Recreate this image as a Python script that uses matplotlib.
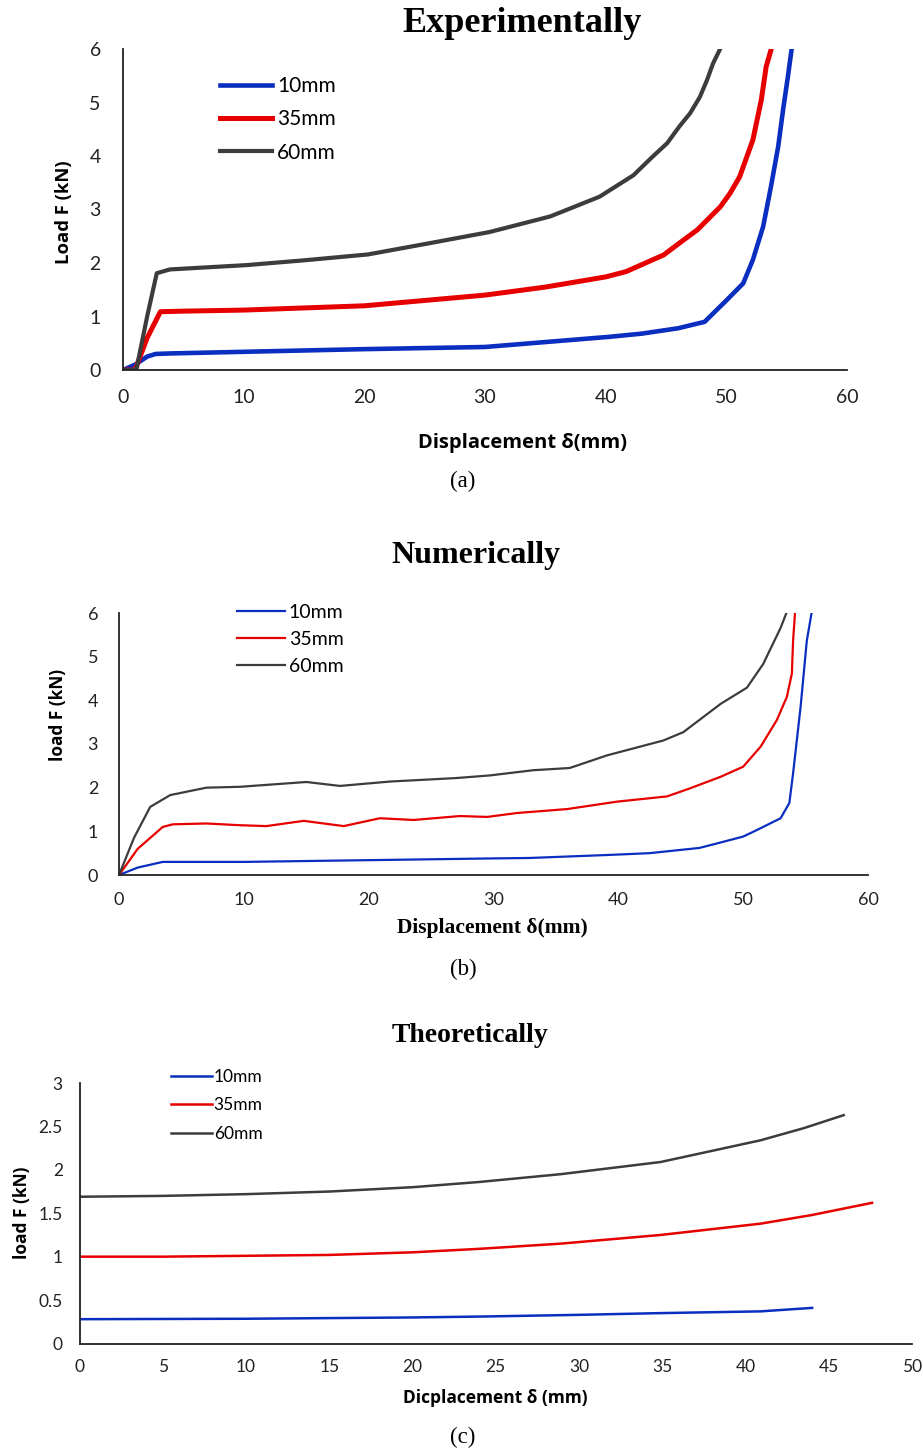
import numpy as np
import matplotlib
matplotlib.use("Agg")
import matplotlib.pyplot as plt

# ---- data ----
labels = ["10mm", "35mm", "60mm"]
colors = ["#0a2fc0", "#e60000", "#3c3c3c"]

# (a) experimentally
exp_x_10 = [0, 1, 2, 2.7, 4, 10, 20, 30, 40.3, 43, 46, 48.2, 50, 51.4, 52.2, 53.05, 53.7, 54.3, 54.7, 55.1, 55.4, 55.6]
exp_y_10 = [0, 0.1, 0.25, 0.3, 0.31, 0.34, 0.39, 0.43, 0.62, 0.68, 0.78, 0.9, 1.3, 1.62, 2.06, 2.68, 3.43, 4.18, 4.86, 5.48, 5.98, 6.3]
exp_x_35 = [0, 1.0, 2.0, 3.1, 5, 10, 20, 30, 35, 40, 41.7, 44.8, 46.1, 47.6, 49.5, 50.3, 51.1, 52.2, 52.9, 53.3, 53.7, 53.9]
exp_y_35 = [0, 0.0, 0.6, 1.09, 1.1, 1.12, 1.2, 1.4, 1.55, 1.74, 1.84, 2.15, 2.37, 2.62, 3.05, 3.3, 3.61, 4.3, 5.05, 5.67, 5.98, 6.3]
exp_x_60 = [0, 1.1, 2.0, 2.8, 3.9, 10.2, 15, 20.3, 25.4, 30.4, 35.4, 37.4, 39.5, 42.3, 43.9, 45.1, 46.1, 47.0,
            47.8, 48.4, 48.9, 49.7]
exp_y_60 = [0, 0.0, 1.0, 1.81, 1.88, 1.96, 2.05, 2.16, 2.37, 2.58, 2.87, 3.05, 3.24, 3.64, 3.99, 4.24, 4.55, 4.8,
            5.1, 5.42, 5.73, 6.1]

# (b) numerically
num_x_10 = [0, 1.5, 3.5, 10, 20, 30, 32.9, 39.3, 42.5, 46.5, 48.4, 50, 51.1, 53, 53.7, 54.0, 54.6, 55.1, 55.6]
num_y_10 = [0, 0.17, 0.3, 0.3, 0.34, 0.38, 0.39, 0.46, 0.5, 0.62, 0.76, 0.88, 1.03, 1.3, 1.65, 2.33, 3.85, 5.37, 6.2]
num_x_35 = [0, 1.5, 3.5, 4.3, 7.0, 9.7, 11.8, 14.8, 18, 20.9, 23.6, 27.3, 29.5, 31.9, 35.9, 39.9, 43.9,
            45.7, 48.2, 50, 51.4, 52.7, 53.5, 53.9, 54.0, 54.2]
num_y_35 = [0, 0.6, 1.1, 1.16, 1.18, 1.14, 1.12, 1.24, 1.12, 1.3, 1.26, 1.35, 1.33, 1.42, 1.51, 1.68, 1.8,
            1.98, 2.25, 2.48, 2.94, 3.55, 4.08, 4.61, 5.37, 6.2]
num_x_60 = [0, 1.2, 2.5, 4.1, 7.0, 9.7, 15, 17.7, 21.7, 27, 29.7, 33.2, 36.1, 39.1, 43.6, 45.2, 48.2, 50.3,
            51.6, 53, 53.6]
num_y_60 = [0, 0.85, 1.56, 1.83, 2.0, 2.02, 2.13, 2.04, 2.14, 2.22, 2.28, 2.4, 2.45, 2.74, 3.08, 3.27, 3.92,
            4.29, 4.83, 5.66, 6.1]

# (c) theoretically
th_x_10 = [0, 10, 20, 24, 30, 34.9, 40.9, 44.0]
th_y_10 = [0.28, 0.285, 0.3, 0.31, 0.33, 0.35, 0.37, 0.41]
th_x_35 = [0, 5, 10, 15, 20, 24, 28.9, 34.9, 40.9, 44, 47.6]
th_y_35 = [1.0, 1.0, 1.01, 1.02, 1.05, 1.09, 1.15, 1.25, 1.38, 1.48, 1.62]
th_x_60 = [0, 5, 10, 15, 20, 24, 28.9, 34.9, 40.9, 43.5, 45.9]
th_y_60 = [1.69, 1.7, 1.72, 1.75, 1.8, 1.86, 1.95, 2.09, 2.34, 2.48, 2.63]

W, H = 923, 1450
fig = plt.figure(figsize=(W / 100, H / 100), dpi=100)


def px_axes(l, t, r, b):
    ''' Axes from pixel box (left, top, right, bottom). '''
    return fig.add_axes([l / W, 1 - b / H, (r - l) / W, (b - t) / H])


def style_axes(ax, xpad, ypad, size):
    for s in ["top", "right"]:
        ax.spines[s].set_visible(False)
    for s in ["left", "bottom"]:
        ax.spines[s].set_color("#222222")
        ax.spines[s].set_linewidth(1.3)
    ax.tick_params(length=0, labelsize=size)
    ax.tick_params(axis="x", pad=xpad)
    ax.tick_params(axis="y", pad=ypad)
    for lab in ax.get_xticklabels() + ax.get_yticklabels():
        lab.set_fontfamily("Lato")
        lab.set_color("#222222")


def add_legend(ax, left, top, fs, hl, pad, ls):
    ''' Legend whose line starts at pixel x=left and whose text top is at pixel y=top. '''
    bb = ax.get_position()
    ax_l, ax_t = bb.x0 * W, (1 - bb.y1) * H
    ax_w, ax_h = bb.width * W, bb.height * H
    ax.legend(loc="upper left", bbox_to_anchor=((left - ax_l) / ax_w, 1 - (top - ax_t) / ax_h),
              frameon=False, handlelength=hl, handletextpad=pad, labelspacing=ls,
              borderaxespad=0, borderpad=0, prop={"family": "Lato", "size": fs})


def put_text(x, y, s, **kw):
    fig.text(x / W, 1 - y / H, s, ha="center", va="center", **kw)


# ---- (a) ----
ax1 = px_axes(123, 49, 847, 370)
for xs, ys, c, lab, lw in zip([exp_x_10, exp_x_35, exp_x_60], [exp_y_10, exp_y_35, exp_y_60], colors, labels,
                              [3.3, 3.6, 3.0]):
    ax1.plot(xs, ys, color=c, lw=lw, label=lab)
ax1.set_xlim(0, 60)
ax1.set_ylim(0, 6)
ax1.set_xticks(range(0, 61, 10))
ax1.set_yticks(range(0, 7))
style_axes(ax1, 14, 16, 14)
add_legend(ax1, 220, 76, 15, 2.5, 0.25, 0.64)

put_text(522, 23, "Experimentally", family="Liberation Serif", weight="bold", fontsize=26)
put_text(523, 443, "Displacement δ(mm)", family="Open Sans", weight="bold", fontsize=14.5)
put_text(64, 212, "Load F (kN)", family="Open Sans", weight="bold", fontsize=13.3, rotation=90)
put_text(463, 481, "(a)", family="Liberation Serif", fontsize=16.5)

# ---- (b) ----
ax2 = px_axes(119, 613, 868, 875)
for xs, ys, c, lab in zip([num_x_10, num_x_35, num_x_60], [num_y_10, num_y_35, num_y_60], colors, labels):
    ax2.plot(xs, ys, color=c, lw=1.6, label=lab)
ax2.set_xlim(0, 60)
ax2.set_ylim(0, 6)
ax2.set_xticks(range(0, 61, 10))
ax2.set_yticks(range(0, 7))
style_axes(ax2, 12, 15, 13)
add_legend(ax2, 237, 604, 14, 2.47, 0.2, 0.51)

put_text(476, 556, "Numerically", family="Liberation Serif", weight="bold", fontsize=23)
put_text(492, 928, "Displacement δ(mm)", family="Liberation Serif", weight="bold", fontsize=15.5)
put_text(58, 715, "load F (kN)", family="Open Sans", weight="bold", fontsize=12.4, rotation=90)
put_text(463, 969, "(b)", family="Liberation Serif", fontsize=16.5)

# ---- (c) ----
ax3 = px_axes(79.5, 1083, 912, 1343.5)
for xs, ys, c, lab in zip([th_x_10, th_x_35, th_x_60], [th_y_10, th_y_35, th_y_60], colors, labels):
    ax3.plot(xs, ys, color=c, lw=1.8, label=lab)
ax3.set_xlim(0, 50)
ax3.set_ylim(0, 3)
ax3.set_xticks(range(0, 51, 5))
ax3.set_yticks([0, 0.5, 1, 1.5, 2, 2.5, 3])
ax3.set_yticklabels(["0", "0.5", "1", "1.5", "2", "2.5", "3"])
style_axes(ax3, 11, 12, 12.5)
add_legend(ax3, 171, 1069, 12.5, 2.36, 0.1, 0.71)

put_text(470, 1036, "Theoretically", family="Liberation Serif", weight="bold", fontsize=20)
put_text(495, 1398, "Dicplacement δ (mm)", family="Open Sans", weight="bold", fontsize=12.5)
put_text(22, 1213, "load F (kN)", family="Open Sans", weight="bold", fontsize=12.5, rotation=90)
put_text(463, 1437, "(c)", family="Liberation Serif", fontsize=16.5)

fig.savefig("out.png", dpi=100)
